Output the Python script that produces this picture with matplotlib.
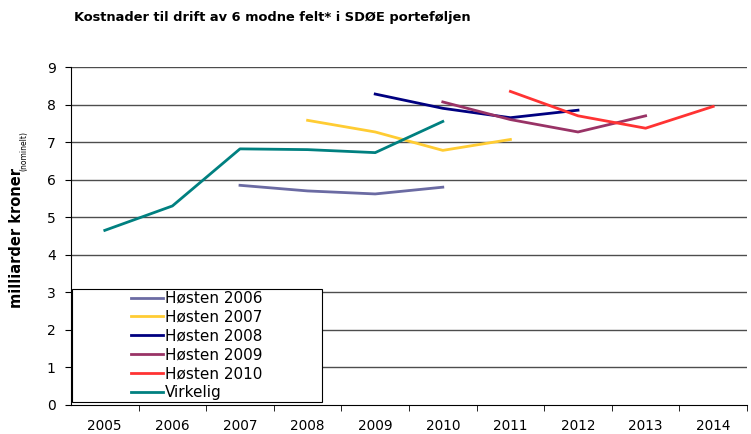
import matplotlib
matplotlib.use("Agg")
import matplotlib.pyplot as plt
from matplotlib.patches import Rectangle

years = [2005, 2006, 2007, 2008, 2009, 2010, 2011, 2012, 2013, 2014]

# forecasts start at different years
h2006 = [5.85, 5.70, 5.62, 5.80]
h2007 = [7.58, 7.27, 6.78, 7.07]
h2008 = [8.28, 7.90, 7.65, 7.85]
h2009 = [8.07, 7.60, 7.27, 7.70]
h2010 = [8.35, 7.70, 7.37, 7.95]
virkelig = [4.65, 5.30, 6.82, 6.80, 6.72, 7.55]

series = [
    ("Høsten 2006", 2007, h2006, "#6b6ba3"),
    ("Høsten 2007", 2008, h2007, "#ffcc33"),
    ("Høsten 2008", 2009, h2008, "#000080"),
    ("Høsten 2009", 2010, h2009, "#993366"),
    ("Høsten 2010", 2011, h2010, "#ff3333"),
    ("Virkelig", 2005, virkelig, "#008080"),
]

plt.rcParams['font.family'] = ['DejaVu Sans']

fig = plt.figure(figsize=(7.51, 4.34), dpi=100)
ax = fig.add_axes([71/751, 1-405/434, 676/751, 338/434])

for label, start, vals, col in series:
    i0 = years.index(start)
    xs = list(range(i0, i0 + len(vals)))
    ax.plot(xs, vals, color=col, lw=2.0, label=label, zorder=3)

ax.set_xlim(-0.5, len(years) - 0.5)
ax.set_ylim(0, 9)
ax.set_yticks(range(0, 10))
ax.set_xticks(range(len(years)))
ax.set_xticklabels([str(y) for y in years], fontsize=9.8)
ax.set_xticks([i - 0.5 for i in range(1, len(years) + 1)], minor=True)
ax.tick_params(axis='x', which='major', length=0, pad=10)
ax.tick_params(axis='x', which='minor', length=4, direction='out', color='black')
ax.tick_params(axis='y', length=4, direction='out', labelsize=10, pad=7)

for v in range(1, 10):
    ax.axhline(v, color='#4d4d4d', lw=1.0, zorder=1)

for s in ['top', 'right']:
    ax.spines[s].set_visible(False)

# legend with its own frame
box = Rectangle((0.0015, 0.009), 0.3695, 0.334, transform=ax.transAxes,
                facecolor='white', edgecolor='black', lw=0.8, zorder=4)
ax.add_patch(box)
leg = ax.legend(loc='center', bbox_to_anchor=(0.186, 0.176), frameon=False,
                fontsize=11, handlelength=2.1, labelspacing=0.25,
                handletextpad=0.15, borderpad=0)
leg.set_zorder(5)

fig.text(272/751, 1-17/434, "Kostnader til drift av 6 modne felt* i SDØE porteføljen",
         ha='center', va='center', fontsize=9.4, fontweight='bold')

fig.text(17/751, 1-238/434, "milliarder kroner", rotation=90, ha='center',
         va='center', fontsize=10.5, fontweight='bold')
fig.text(23.5/751, 1-151/434, "(nominelt)", rotation=90, ha='center',
         va='center', fontsize=5.5)

fig.savefig("out.png", dpi=100)
